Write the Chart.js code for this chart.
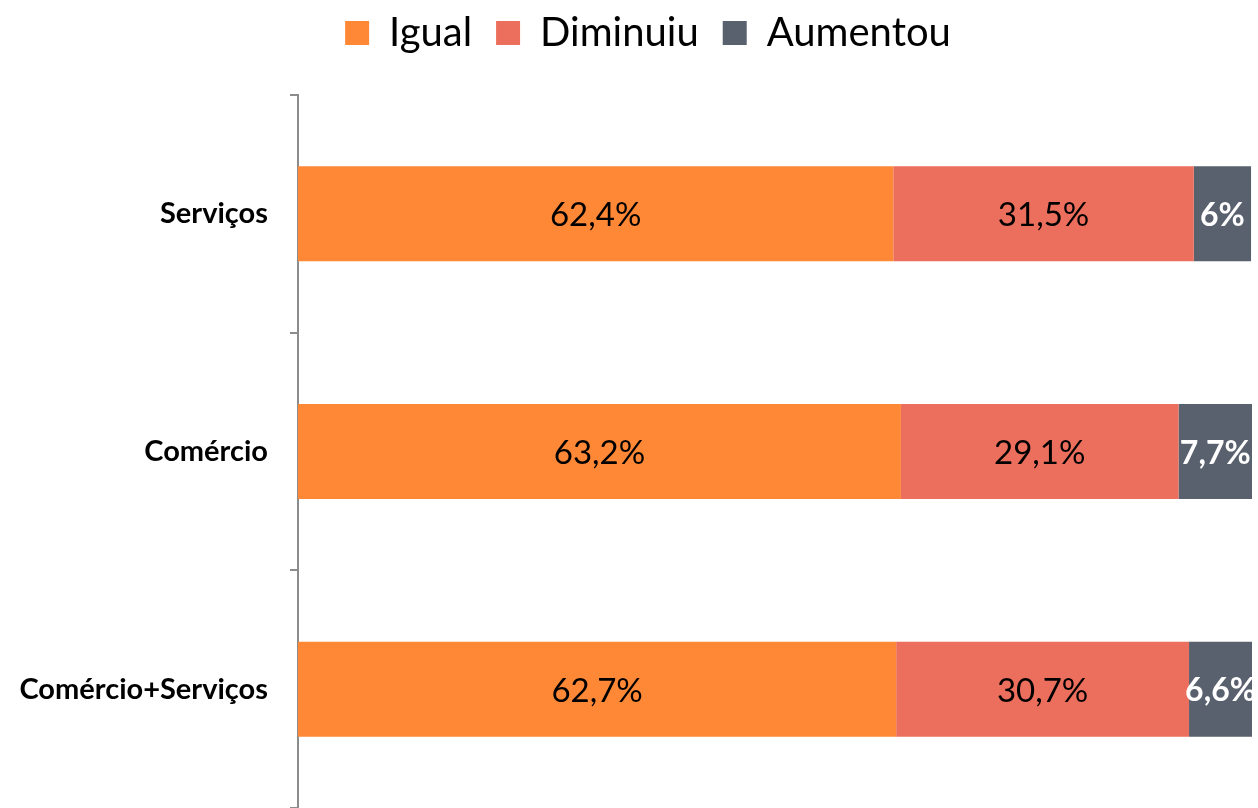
<!DOCTYPE html>
<html>
<head>
<meta charset="utf-8">
<script src="https://cdn.jsdelivr.net/npm/chart.js@4.4.0/dist/chart.umd.min.js"></script>
<style>
  html, body { margin: 0; padding: 0; background: #fff; }
  #wrap { width: 1258px; height: 808px; }
</style>
</head>
<body>
<div id="wrap"><canvas id="chart-setor"></canvas></div>
<script>
var categorias = ['Serviços', 'Comércio', 'Comércio+Serviços'];
var igual = [62.4, 63.2, 62.7];
var diminuiu = [31.5, 29.1, 30.7];
var aumentou = [6, 7.7, 6.6];

function fmt(v) {
    return String(v).replace('.', ',') + '%';
}

// draws the value in the middle of each bar segment
var rotulos = {
    id: 'rotulos',
    afterDatasetsDraw: function (chart) {
        var ctx = chart.ctx;
        chart.data.datasets.forEach(function (ds, i) {
            var meta = chart.getDatasetMeta(i);
            meta.data.forEach(function (bar, j) {
                var x = (bar.x + bar.base) / 2;
                ctx.save();
                ctx.textAlign = 'center';
                ctx.textBaseline = 'middle';
                if (i === 2) {
                    ctx.fillStyle = '#ffffff';
                    ctx.font = 'bold 32px Lato';
                } else {
                    ctx.fillStyle = '#000000';
                    ctx.font = '33px Lato';
                }
                ctx.fillText(fmt(ds.data[j]), x, bar.y + 2);
                ctx.restore();
            });
        });
    }
};

// legend in the original sits a bit right of centre and near the top
var moveLegenda = {
    id: 'moveLegenda',
    afterLayout: function (chart) {
        chart.legend.left += 22;
        chart.legend.right += 22;
        chart.legend.top -= 32;
        chart.legend.bottom -= 32;
    }
};

var ctx = document.getElementById('chart-setor').getContext('2d');

var chart = new Chart(ctx, {
    type: 'bar',
    data: {
        labels: categorias,
        datasets: [
            { label: 'Igual', data: igual, backgroundColor: 'rgb(255, 136, 54)' },
            { label: 'Diminuiu', data: diminuiu, backgroundColor: 'rgb(236, 110, 92)' },
            { label: 'Aumentou', data: aumentou, backgroundColor: 'rgb(89, 96, 110)' }
        ]
    },
    options: {
        indexAxis: 'y',
        responsive: true,
        maintainAspectRatio: false,
        animation: false,
        layout: { padding: { left: 0, right: 6, top: -11, bottom: -3 } },
        datasets: {
            bar: { barPercentage: 0.8, categoryPercentage: 0.5 }
        },
        plugins: {
            legend: {
                position: 'top',
                labels: {
                    boxWidth: 24,
                    boxHeight: 24,
                    padding: 24,
                    color: '#000',
                    font: { family: 'Lato', size: 40 }
                }
            },
            tooltip: { enabled: false }
        },
        scales: {
            x: {
                stacked: true,
                min: 0,
                max: 100,
                display: false
            },
            y: {
                stacked: true,
                afterFit: function (scale) {
                    scale.width = 298;
                    scale.paddingTop = 95;
                    scale.paddingBottom = 0;
                },
                border: { color: '#8c8c8c', width: 2 },
                grid: {
                    drawOnChartArea: false,
                    drawTicks: true,
                    tickLength: 8,
                    color: '#8c8c8c',
                    lineWidth: 2
                },
                ticks: {
                    color: '#000',
                    padding: 22,
                    font: { family: 'Lato', size: 29, weight: 'bold' }
                }
            }
        }
    },
    plugins: [rotulos, moveLegenda]
});
</script>
</body>
</html>
